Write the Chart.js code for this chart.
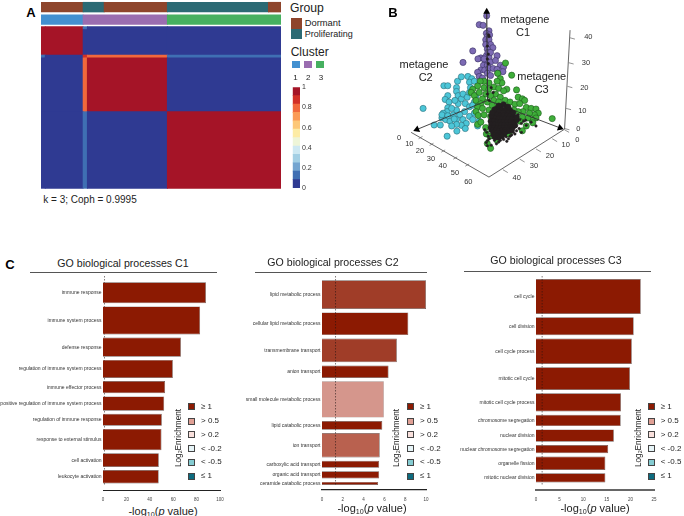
<!DOCTYPE html>
<html><head><meta charset="utf-8">
<style>
html,body{margin:0;padding:0;background:#fff;width:684px;height:516px;overflow:hidden;font-family:"Liberation Sans",Arial,sans-serif;color:#222}
canvas{position:absolute;display:block}
.t{position:absolute;white-space:nowrap;line-height:1}
.sw{position:absolute;box-sizing:border-box}
.r{position:absolute}
sub{font-size:.65em;vertical-align:baseline;position:relative;top:.25em;line-height:0}
</style>
<script src="https://cdn.jsdelivr.net/npm/chart.js@4/dist/chart.umd.min.js"></script>
</head><body>
<script>
/* ---------- Panel A data ---------- */
const sampleBlocks = [1, 9, 1, 19, 27];
const consensus = [
  [1,    1, 0.12, 0,    0   ],
  [1,    1, 0,    0,    0   ],
  [0.12, 0, 0.9,  0.75, 0.12],
  [0,    0, 0.75, 1,    0   ],
  [0,    0, 0.12, 0,    1   ]
];
const groupRuns = [10, 5, 15, 24, 3];
const groupKinds = [0, 1, 0, 1, 0];
const groupNames = ['Dormant', 'Proliferating'];
const groupColors = ['#8e452c', '#2b6a74'];
const clusterRuns = [10, 20, 27];
const clusterNames = ['1', '2', '3'];
const clusterColors = ['#4390d0', '#9a6db0', '#46b060'];
const heatBins = ['#2f3a92','#3f6fb3','#74a5d0','#a3cfe4','#cde8f2','#eef5d8','#fdeca5','#fdc878','#fb9a56','#f1683c','#d22f27','#a51427'];

/* ---------- Panel B data (read in the picture's projection plane) ---------- */
const cyanX = [242,316,346,276,295,306,318,348,360,345,345,350,318,310,322,318,316,304,300,312,325,335,345,350,360,365,378,380,392,385,388,400,372,385,370,355,345,365,385,400,395,375,360,372,345,330,410,415,400,385,405,395,330,340,300,318,338];
const cyanY = [325,412,396,377,377,254,254,240,226,260,272,285,285,297,305,323,335,340,355,360,365,345,330,310,295,280,290,225,232,243,260,240,310,320,335,345,360,360,350,340,360,372,378,388,375,380,380,365,305,275,285,315,325,300,345,348,358];
const purpleX = [438,415,427,445,437,447,440,435,445,450,435,457,440,395,420,470,365,411,437,445,435,450,465,428,440,480,490,420,410,432,445,458,470,488,415,425,440,450,430,442,450,472];
const purpleY = [35,63,65,82,90,95,100,110,110,125,125,135,140,145,167,160,181,170,160,165,180,180,175,190,190,190,195,205,212,205,200,200,203,210,225,230,215,222,170,150,150,215];
const greenX = [496,515,472,530,500,640,480,485,470,445,430,418,410,395,390,400,415,430,445,460,475,490,465,450,435,425,405,420,410,405,412,430,445,440,460,480,495,510,525,535,548,555,540,560,575,590,597,585,570,550,535,522,590,578,565,548,580,560,548,507,470,450,440,437,448,460,410,420,435,500,515,540,472,455,475,450,425,465];
const greenY = [183,221,215,267,265,357,232,245,240,245,240,240,255,265,275,285,275,260,265,258,262,270,280,285,280,295,300,310,320,335,347,345,330,305,300,290,300,305,312,290,295,300,310,322,325,327,340,345,340,335,335,330,355,362,355,352,370,380,395,405,425,450,435,405,412,395,375,368,385,320,350,365,320,315,305,350,325,335];
const coreX = [490,480,500,470,485,495,510,465,475,490,505,515,460,470,480,490,500,510,520,455,465,475,485,495,505,515,525,450,460,470,480,490,500,510,520,530,452,462,472,482,492,502,512,522,450,460,470,480,490,500,510,520,455,465,475,485,495,505,515,458,468,478,488,498,508,462,472,482,492,465,475,485,475,505,462,520,452,530,455,516,526];
const coreY = [312,318,320,325,328,330,330,335,336,338,338,340,345,345,347,346,347,348,350,355,355,356,357,356,357,358,358,365,365,366,367,366,367,367,368,362,375,375,376,377,376,376,376,372,385,385,386,386,385,384,384,382,393,394,395,394,393,392,388,400,402,402,400,398,396,408,410,408,405,415,416,412,316,320,328,338,348,352,338,392,378];
const strayX = [470,438,443,441,446,437,444,440,443,452,458,446,453,462,475,488,440,452,468,498,505,515,535,545,552,560,538,528,575,590,445,440,443,440,530,545,520,500,480,432,458,510,490,525,540,558,470,448];
const strayY = [420,400,412,425,420,432,95,170,185,260,275,300,410,425,430,418,442,440,436,414,420,408,345,372,365,378,388,382,368,380,100,130,155,280,395,400,400,428,425,392,418,412,422,405,360,362,412,395];
const axisZ0 = [[438,22],[441,300]];
const axisC2 = [[223,391],[441,300]];
const axisC3 = [[664,386],[441,300]];
const floorX = [205,445,678];
const floorY = [400,540,390];
const wallX = [678,695];
const wallY = [390,80];
const tickSegments = [
 [[228,420],[240,413]],[[262,441],[274,434]],[[298,462],[310,455]],[[335,484],[347,477]],[[372,506],[384,499]],
 [[678,392],[692,400]],[[640,420],[655,429]],[[590,452],[605,461]],[[540,484],[555,493]],[[488,517],[503,526]],
 [[695,104],[710,108]],[[691,182],[706,186]],[[687,256],[702,260]],[[683,325],[698,329]],[[678,388],[693,392]]
];

/* ---------- Panel C data ---------- */
const c1Terms = ['immune response','immune system process','defense response','regulation of immune system process','immune effector process','positive regulation of immune system process','regulation of immune response','response to external stimulus','cell activation','leukocyte activation'];
const c1Values = [88,83,66.6,59.7,53.1,52.3,50.3,50,47.7,47.6];
const c1Sizes = [21,28,19.3,18,12.3,14.3,12,21.3,13.7,13.3];
const c1Class = [0,0,0,0,0,0,0,0,0,0];
const c2Terms = ['lipid metabolic process','cellular lipid metabolic process','transmembrane transport','anion transport','small molecule metabolic process','lipid catabolic process','ion transport','carboxylic acid transport','organic acid transport','ceramide catabolic process'];
const c2Values = [10,8.3,7.2,6.4,5.95,5.8,5.55,5.5,5.5,5.4];
const c2Sizes = [28.7,22.7,23.7,12.3,36.3,8.7,24.3,7,7.3,3];
const c2Class = [1,0,1,0,3,0,2,0,0,0];
const c3Terms = ['cell cycle','cell division','cell cycle process','mitotic cell cycle','mitotic cell cycle process','chromosome segregation','nuclear division','nuclear chromosome segregation','organelle fission','mitotic nuclear division'];
const c3Values = [22.2,20.7,20.3,19.9,18,17.95,16.5,15.3,14.7,14.7];
const c3Sizes = [35,18,25.3,22.7,18.3,11.3,12.3,8.3,13.3,9.3];
const c3Class = [0,0,0,0,0,0,0,0,0,0];
const classColors = ['#8c1a02','#a03d28','#b9614f','#d5968c'];
const enrichLabels = ['≥ 1','> 0.5','> 0.2','< -0.2','< -0.5','≤ 1'];
const enrichColors = ['#8c1a02','#e0a095','#f9e0dc','#e6f4f7','#85ccd2','#0d6b7f'];
const pThreshold = 1.3;

/* ---------- helpers ---------- */
Chart.defaults.animation = false;
Chart.defaults.font.family = '"Liberation Sans",Arial,sans-serif';
Chart.defaults.plugins.legend.display = false;
Chart.defaults.plugins.tooltip.enabled = false;
Chart.defaults.responsive = false;

function txt(html, x, y, size, opts) {
  opts = opts || {};
  const d = document.createElement('div');
  d.className = 't';
  d.innerHTML = html;
  d.style.left = x + 'px'; d.style.top = y + 'px'; d.style.fontSize = size + 'px';
  if (opts.bold) d.style.fontWeight = 'bold';
  if (opts.color) d.style.color = opts.color;
  const tx = opts.left ? '0' : '-50%';
  d.style.transform = 'translate(' + tx + ',-50%)' + (opts.rot ? ' rotate(' + opts.rot + 'deg)' : '');
  document.body.appendChild(d);
}
function box(cls, x, y, w, h, color, border) {
  const d = document.createElement('div');
  d.className = cls;
  d.style.cssText = 'left:' + x + 'px;top:' + y + 'px;width:' + w + 'px;height:' + h + 'px;background:' + color + (border ? ';border:1px solid ' + border : '');
  document.body.appendChild(d);
}
function canvas(x, y, w, h) {
  const c = document.createElement('canvas');
  c.width = w; c.height = h;
  c.style.left = x + 'px'; c.style.top = y + 'px';
  c.style.width = w + 'px'; c.style.height = h + 'px';
  document.body.appendChild(c);
  return c.getContext('2d');
}
/* Bars whose thickness comes from the value-scale of their category axis */
const sizedBars = {
  id: 'sizedBars',
  afterDatasetsUpdate(chart) {
    const y = chart.scales.y;
    chart.data.datasets.forEach((ds, k) => {
      if (!ds.sizes) return;
      chart.getDatasetMeta(k).data.forEach((el, i) => {
        el.height = Math.abs(y.getPixelForValue(ds.sizes[i]) - y.getPixelForValue(0));
      });
    });
  }
};

/* ---------- Panel A ---------- */
(function () {
  const pts = [], cols = [], sizes = [];
  let rowStart = 0;
  sampleBlocks.forEach((rh, r) => {
    let colStart = 0;
    sampleBlocks.forEach((cw, c) => {
      pts.push({ x: [colStart, colStart + cw], y: rowStart + rh / 2 });
      cols.push(heatBins[Math.min(11, Math.floor(consensus[r][c] * 12))]);
      sizes.push(rh);
      colStart += cw;
    });
    rowStart += rh;
  });
  let s = 0;
  groupRuns.forEach((n, i) => {
    pts.push({ x: [s, s + n], y: -6.9 }); cols.push(groupColors[groupKinds[i]]); sizes.push(3.4); s += n;
  });
  s = 0;
  clusterRuns.forEach((n, i) => {
    pts.push({ x: [s, s + n], y: -2.5 }); cols.push(clusterColors[i]); sizes.push(3.4); s += n;
  });
  new Chart(canvas(41, 0, 240, 190), {
    type: 'bar',
    data: { datasets: [{ data: pts, backgroundColor: cols, sizes: sizes, borderWidth: 0, inflateAmount: 0.4 }] },
    options: {
      indexAxis: 'y',
      scales: {
        x: { type: 'linear', display: false, min: 0, max: 57 },
        y: { type: 'linear', display: false, reverse: true, min: -9.42, max: 57.6, offset: false }
      }
    },
    plugins: [sizedBars]
  });
  new Chart(canvas(290, 80, 36, 115), {
    type: 'bar',
    data: { labels: ['Consensus'], datasets: heatBins.map(c => ({ data: [1 / 12], backgroundColor: c, borderWidth: 0, barPercentage: 1, categoryPercentage: 1, inflateAmount: 0.4 })) },
    options: {
      layout: { padding: { top: 7.3, bottom: 7, left: 2.7 } },
      scales: {
        x: { display: false, stacked: true },
        y: { stacked: true, position: 'right', min: 0, max: 1,
          afterFit(a) { a.width = 26; a.paddingTop = 0; a.paddingBottom = 0; },
          grid: { display: false, drawTicks: false }, border: { display: false },
          ticks: { stepSize: 0.2, padding: 2, font: { size: 7 }, color: '#333', callback: v => String(+v.toFixed(1)) } }
      }
    }
  });
  txt('A', 31, 12, 13, { bold: true, color: '#000' });
  txt('Group', 290, 8, 12.2, { left: true });
  groupNames.forEach((n, i) => {
    box('sw', 291, 18 + i * 10.6, 10.5, 10.6, groupColors[i]);
    txt(n, 304.7, 22.8 + i * 11.5, i ? 9 : 9.4, { left: true });
  });
  txt('Cluster', 290.7, 51.5, 12, { left: true });
  clusterNames.forEach((n, i) => {
    box('sw', 292.3 + i * 12, 60.7, 8, 7.7, clusterColors[i]);
    txt(n, 295.5 + i * 12.8, 77.5, 8);
  });
  txt('k = 3; Coph = 0.9995', 43.3, 199.7, 10, { left: true });
})();

/* ---------- Panel B ---------- */
(function () {
  const zip = (xs, ys) => xs.map((x, i) => ({ x, y: ys[i] }));
  const seg = a => a.map(p => ({ x: p[0], y: p[1] }));
  const line = (data, color, w, order) => ({ type: 'scatter', data, showLine: true, borderColor: color, borderWidth: w, pointRadius: 0, order });
  const dots = (data, bg, bd, r, order) => ({ type: 'scatter', data, backgroundColor: bg, borderColor: bd, borderWidth: 0.6, pointRadius: r, order });
  const head = (p, rot) => ({ type: 'scatter', data: [{ x: p[0], y: p[1] }], pointStyle: 'triangle', rotation: rot, pointRadius: 4, backgroundColor: '#000', borderColor: '#000', borderWidth: 0, order: 0 });
  const ds = [
    line(zip(floorX, floorY), '#555', 0.9, 6),
    line(zip(wallX, wallY), '#555', 0.9, 6),
    dots(zip(cyanX, cyanY), '#4cc6d8', '#2b6d78', 3.1, 5),
    dots(zip(purpleX, purpleY), '#7c6ab4', '#3a3263', 3.1, 4),
    dots(zip(greenX, greenY), '#3fae3a', '#1e5a1c', 3.1, 3),
    line(seg(axisC2), '#333', 0.9, 2),
    line(seg(axisC3), '#333', 0.9, 2),
    line(seg(axisZ0), '#333', 1.1, 2),
    dots(zip(strayX, strayY), '#231f20', '#231f20', 1.2, 1),
    dots(zip(coreX, coreY), '#231f20', '#231f20', 2.6, 1),
    head(axisZ0[0], 0), head(axisC2[0], -113), head(axisC3[0], 111)
  ];
  tickSegments.forEach(t => ds.push(line(seg(t), '#666', 0.7, 6)));
  new Chart(canvas(340, 0, 344, 220), {
    type: 'scatter',
    data: { datasets: ds },
    options: {
      scales: {
        x: { display: false, min: 0, max: 1032 },
        y: { display: false, reverse: true, min: 0, max: 660 }
      }
    }
  });
  txt('B', 393, 12, 13, { bold: true, color: '#000' });
  const bx = 340, sc = 3;
  [['0',177,414],['10',208,433],['20',240,454],['30',273,476],['40',308,497],['50',345,520],['60',385,545],
   ['0',712,420],['10',677,436],['20',630,467],['30',582,499],['40',530,533],
   ['0',715,388],['10',727,333],['20',733,263],['30',738,188],['40',745,110]]
   .forEach(l => txt(l[0], bx + l[1] / sc, l[2] / sc, 7.5, { color: '#333' }));
  txt('metagene', 525, 19.3, 11); txt('C1', 523, 32.3, 11);
  txt('metagene', 424, 64, 11); txt('C2', 425.7, 77, 11);
  txt('metagene', 541.7, 76.3, 11); txt('C3', 541.7, 89, 11);
})();

/* ---------- Panel C ---------- */
function goChart(p) {
  let pos = 0;
  const data = p.values.map((v, i) => {
    const y = pos + p.sizes[i] / 2;
    pos += p.sizes[i] + p.gap;
    return { x: v, y };
  });
  const centers = data.map(d => d.y);
  const plotH = p.axisY - p.top;
  const yMin = -(p.firstTop - p.top);
  const threshold = {
    id: 'threshold',
    [p.lineOver ? 'afterDatasetsDraw' : 'beforeDatasetsDraw'](chart) {
      const c = chart.ctx, a = chart.chartArea, x = chart.scales.x.getPixelForValue(pThreshold);
      c.save(); c.setLineDash([1.5, 1.5]); c.lineWidth = 0.7; c.strokeStyle = 'rgba(30,20,20,.8)';
      c.beginPath(); c.moveTo(x, a.top + 1); c.lineTo(x, a.bottom - 4); c.stroke(); c.restore();
    }
  };
  new Chart(canvas(p.left, p.top, p.width, plotH + 14), {
    type: 'bar',
    data: { datasets: [{ data, sizes: p.sizes, backgroundColor: p.cls.map(k => classColors[k]), borderColor: p.cls.map(k => k === 3 ? '#a88a85' : '#6e5a55'), borderWidth: 0.7 }] },
    options: {
      indexAxis: 'y',
      layout: { padding: { right: p.left + p.width - p.x1, left: 0, top: 0, bottom: 0 } },
      scales: {
        x: { type: 'linear', min: 0, max: p.xMax,
          afterFit(a) { a.height = 14; a.paddingLeft = 0; a.paddingRight = 0; },
          grid: { display: false, drawTicks: false },
          border: { display: true, color: p.axisColor, width: p.axisW },
          ticks: { stepSize: p.step, padding: 7, font: { size: 4.5 }, color: '#444', maxRotation: 0 } },
        y: { type: 'linear', reverse: true, min: yMin, max: yMin + plotH, offset: false,
          afterFit(a) { a.width = p.x0 - p.left; a.paddingTop = 0; a.paddingBottom = 0; },
          afterBuildTicks(a) { a.ticks = centers.map(v => ({ value: v })); },
          grid: { display: false, drawTicks: false }, border: { display: false },
          ticks: { autoSkip: false, padding: 1.5, font: { size: 5 }, color: '#333',
            callback: (v, i) => p.terms[i] } }
      }
    },
    plugins: [sizedBars, threshold]
  });
  txt(p.title, p.titleX, p.titleY, 10.6);
  box('r', p.ruleX0, p.ruleY, p.ruleX1 - p.ruleX0, 1, '#555');
  txt('-log<sub>10</sub>(<i>p</i> value)', p.xLabelX, p.xLabelY, 11);
  txt('Log<sub>2</sub>Enrichment', p.legTitleX, 438, 8.2, { rot: -90 });
  const rows = [406.7, 421, 434.8, 448.5, 462, 476];
  enrichLabels.forEach((l, i) => {
    box('sw', p.swX - 3.5, rows[i] - 3.5, 7, 7, enrichColors[i], '#444');
    txt(l, p.legTextX, rows[i], 8, { left: true });
  });
}
goChart({ terms: c1Terms, values: c1Values, sizes: c1Sizes, cls: c1Class, gap: 3.1,
  left: 0, width: 226, x0: 103, x1: 220, top: 275, axisY: 490, firstTop: 282.3, xMax: 100, step: 20, axisColor: '#222', axisW: 1, lineOver: false,
  title: 'GO biological processes C1', titleX: 123, titleY: 262.5, ruleX0: 30, ruleX1: 217, ruleY: 272,
  xLabelX: 163, xLabelY: 511, legTitleX: 179, swX: 191, legTextX: 201 });
goChart({ terms: c2Terms, values: c2Values, sizes: c2Sizes, cls: c2Class, gap: 3.4,
  left: 228, width: 204, x0: 322, x1: 426, top: 275, axisY: 490, firstTop: 280.3, xMax: 10, step: 2, axisColor: '#222', axisW: 1.3, lineOver: true,
  title: 'GO biological processes C2', titleX: 333, titleY: 262, ruleX0: 255, ruleX1: 427, ruleY: 272,
  xLabelX: 372, xLabelY: 508, legTitleX: 397, swX: 410, legTextX: 420 });
goChart({ terms: c3Terms, values: c3Values, sizes: c3Sizes, cls: c3Class, gap: 3.3,
  left: 456, width: 204, x0: 536, x1: 654, top: 275, axisY: 490, firstTop: 279, xMax: 25, step: 5, axisColor: '#666', axisW: 2, lineOver: true,
  title: 'GO biological processes C3', titleX: 556, titleY: 260, ruleX0: 464, ruleX1: 651, ruleY: 271,
  xLabelX: 595, xLabelY: 508, legTitleX: 639, swX: 651.7, legTextX: 660.7 });
txt('C', 10, 264, 13, { bold: true, color: '#000' });
</script>
</body></html>
